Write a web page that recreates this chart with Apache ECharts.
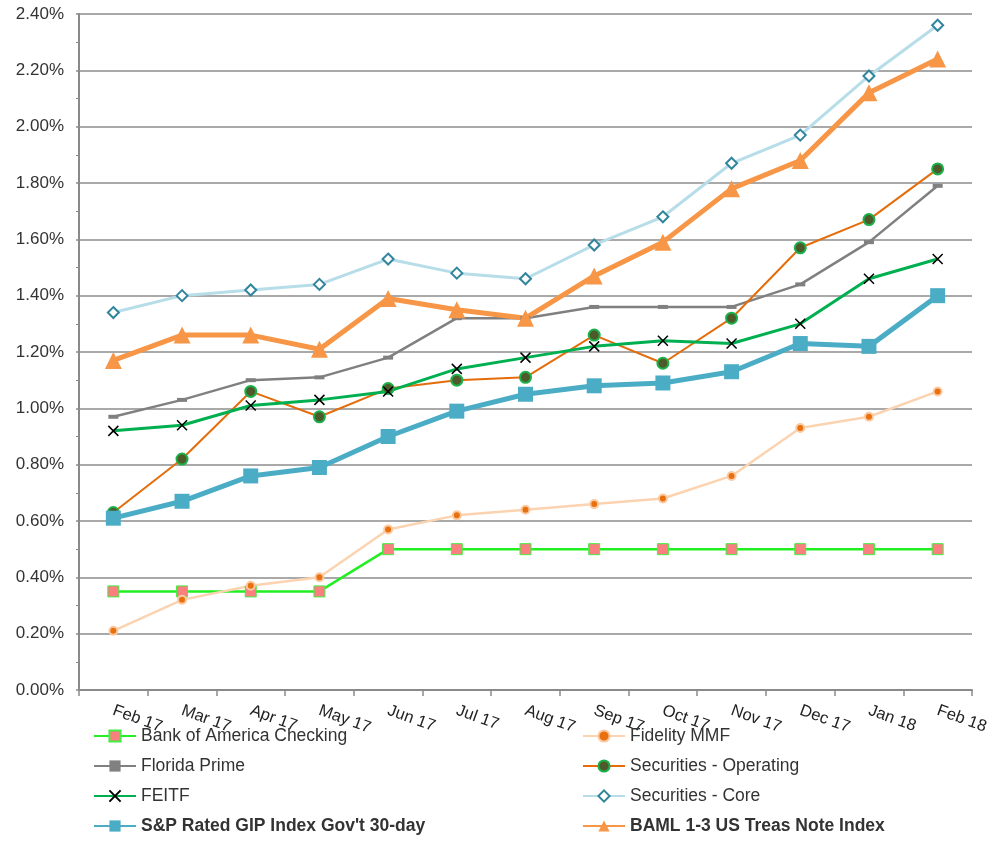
<!DOCTYPE html>
<html>
<head>
<meta charset="utf-8">
<title>Yield comparison</title>
<script src="https://cdn.jsdelivr.net/npm/echarts@6/dist/echarts.min.js"></script>
<style>
  html, body { margin: 0; padding: 0; background: #fff; }
  #chart { width: 1005px; height: 865px; }
</style>
</head>
<body>
<div id="chart"></div>
<script>
// Month-end yields (%), Feb 2017 – Feb 2018
const months = ['Feb 17', 'Mar 17', 'Apr 17', 'May 17', 'Jun 17', 'Jul 17', 'Aug 17',
                'Sep 17', 'Oct 17', 'Nov 17', 'Dec 17', 'Jan 18', 'Feb 18'];

const bankOfAmerica = [0.35, 0.35, 0.35, 0.35, 0.50, 0.50, 0.50, 0.50, 0.50, 0.50, 0.50, 0.50, 0.50];
const fidelityMMF   = [0.21, 0.32, 0.37, 0.40, 0.57, 0.62, 0.64, 0.66, 0.68, 0.76, 0.93, 0.97, 1.06];
const floridaPrime  = [0.97, 1.03, 1.10, 1.11, 1.18, 1.32, 1.32, 1.36, 1.36, 1.36, 1.44, 1.59, 1.79];
const secOperating  = [0.63, 0.82, 1.06, 0.97, 1.07, 1.10, 1.11, 1.26, 1.16, 1.32, 1.57, 1.67, 1.85];
const feitf         = [0.92, 0.94, 1.01, 1.03, 1.06, 1.14, 1.18, 1.22, 1.24, 1.23, 1.30, 1.46, 1.53];
const secCore       = [1.34, 1.40, 1.42, 1.44, 1.53, 1.48, 1.46, 1.58, 1.68, 1.87, 1.97, 2.18, 2.36];
const spGip         = [0.61, 0.67, 0.76, 0.79, 0.90, 0.99, 1.05, 1.08, 1.09, 1.13, 1.23, 1.22, 1.40];
const baml13        = [1.17, 1.26, 1.26, 1.21, 1.39, 1.35, 1.32, 1.47, 1.59, 1.78, 1.88, 2.12, 2.24];

const yTicks = { min: 0, max: 2.4, step: 0.2 };

const FONT = '"Liberation Sans", Arial, Helvetica, sans-serif';
const crossPath = 'path://M0,0L10,10M10,0L0,10';

const chart = echarts.init(document.getElementById('chart'));

const legendText = { fontFamily: FONT, fontSize: 17.5, color: '#333' };

chart.setOption({
  animation: false,
  backgroundColor: '#fff',
  textStyle: { fontFamily: FONT },
  grid: { left: 79, right: 33, top: 14, bottom: 175, containLabel: false },
  legend: [
    {
      orient: 'vertical', left: 88, top: 722, itemGap: 12,
      itemWidth: 42, itemHeight: 14, textStyle: legendText,
      data: [
        'Bank of America Checking', 'Florida Prime', 'FEITF',
        { name: "S&P Rated GIP Index Gov't 30-day", textStyle: { fontWeight: 'bold' } }
      ]
    },
    {
      orient: 'vertical', left: 577, top: 722, itemGap: 12,
      itemWidth: 42, itemHeight: 14, textStyle: legendText,
      data: [
        'Fidelity MMF', 'Securities - Operating', 'Securities - Core',
        { name: 'BAML 1-3 US Treas Note Index', textStyle: { fontWeight: 'bold' } }
      ]
    }
  ],
  xAxis: {
    type: 'category',
    data: months,
    boundaryGap: true,
    axisLine: { lineStyle: { color: '#8a8a8a', width: 2 } },
    axisTick: { show: true, length: 6, lineStyle: { color: '#8a8a8a', width: 1.5 } },
    axisLabel: {
      interval: 0, rotate: -20, margin: 20,
      fontFamily: FONT, fontSize: 16.5, color: '#222'
    },
    splitLine: { show: false }
  },
  yAxis: {
    type: 'value',
    min: yTicks.min, max: yTicks.max, interval: yTicks.step,
    axisLine: { show: true, lineStyle: { color: '#8a8a8a', width: 2 } },
    axisTick: { show: true, length: 3, lineStyle: { color: '#8a8a8a', width: 1.5 } },
    minorTick: { show: true, splitNumber: 2, length: 3, lineStyle: { color: '#8a8a8a', width: 1 } },
    axisLabel: {
      fontFamily: FONT, fontSize: 17, color: '#333', margin: 15,
      formatter: v => v.toFixed(2) + '%'
    },
    splitLine: { show: true, lineStyle: { color: '#8c8c8c', width: 1.5 } }
  },
  series: [
    {
      name: 'Bank of America Checking', type: 'line', data: bankOfAmerica,
      symbol: 'rect', symbolSize: 11,
      lineStyle: { color: '#22ee22', width: 2.5 },
      itemStyle: { color: '#fa7f7f', borderColor: '#44ee44', borderWidth: 1 }
    },
    {
      name: 'Fidelity MMF', type: 'line', data: fidelityMMF,
      symbol: 'circle', symbolSize: 8,
      lineStyle: { color: '#fcd3b0', width: 2.5 },
      itemStyle: { color: '#e8700f', borderColor: '#fcc9a0', borderWidth: 2 }
    },
    {
      name: 'Florida Prime', type: 'line', data: floridaPrime,
      symbol: 'rect', symbolSize: [10, 4],
      lineStyle: { color: '#808080', width: 2.5 },
      itemStyle: { color: '#808080' }
    },
    {
      name: 'Securities - Operating', type: 'line', data: secOperating,
      symbol: 'circle', symbolSize: 11,
      lineStyle: { color: '#e46c0a', width: 2 },
      itemStyle: { color: '#4f5a2a', borderColor: '#1bb04a', borderWidth: 2 }
    },
    {
      name: 'FEITF', type: 'line', data: feitf,
      symbol: crossPath, symbolSize: 10,
      lineStyle: { color: '#00b050', width: 3 },
      itemStyle: { color: '#000', borderColor: '#000', borderWidth: 1.5 }
    },
    {
      name: 'Securities - Core', type: 'line', data: secCore,
      symbol: 'diamond', symbolSize: 11,
      lineStyle: { color: '#b7dde8', width: 3 },
      itemStyle: { color: '#fff', borderColor: '#31859c', borderWidth: 2 }
    },
    {
      name: "S&P Rated GIP Index Gov't 30-day", type: 'line', data: spGip,
      symbol: 'rect', symbolSize: 15,
      lineStyle: { color: '#4bacc6', width: 5 },
      itemStyle: { color: '#4bacc6' }
    },
    {
      name: 'BAML 1-3 US Treas Note Index', type: 'line', data: baml13,
      symbol: 'triangle', symbolSize: 17,
      lineStyle: { color: '#f79646', width: 5 },
      itemStyle: { color: '#f79646' }
    }
  ]
});
</script>
</body>
</html>
